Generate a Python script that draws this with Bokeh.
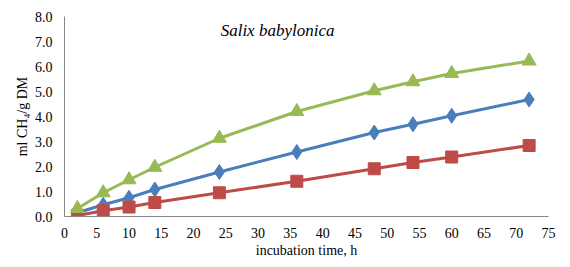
from bokeh.plotting import figure
from bokeh.models import Range1d, FixedTicker, NumeralTickFormatter, Label
from bokeh.embed import file_html
from bokeh.resources import INLINE

hours = [2, 6, 10, 14, 24, 36, 48, 54, 60, 72]
series_blue = [0.15, 0.47, 0.75, 1.08, 1.78, 2.58, 3.36, 3.69, 4.03, 4.68]
series_red = [0.04, 0.23, 0.38, 0.56, 0.95, 1.41, 1.91, 2.16, 2.38, 2.84]
series_green = [0.32, 0.95, 1.47, 1.97, 3.13, 4.2, 5.03, 5.39, 5.72, 6.22]
x_ticks = list(range(0, 80, 5))
y_ticks = [0, 1, 2, 3, 4, 5, 6, 7, 8]

FONT = "Liberation Serif"

p = figure(width=562, height=263, output_backend="svg", toolbar_location=None,
           x_range=Range1d(0, 75), y_range=Range1d(0, 8),
           min_border_left=64, min_border_right=14, min_border_top=16, min_border_bottom=47)
p.outline_line_color = None
p.grid.visible = False

blue, red, green = "#4A7EBB", "#BE4B48", "#98B954"
p.line(hours, series_blue, line_color=blue, line_width=3)
p.scatter(hours, series_blue, marker="diamond", size=15, fill_color=blue, line_color=blue)
p.line(hours, series_red, line_color=red, line_width=3)
p.scatter(hours, series_red, marker="square", size=12, fill_color=red, line_color=red)
p.line(hours, series_green, line_color=green, line_width=3)
p.scatter(hours, series_green, marker="triangle", size=14, fill_color=green, line_color=green)

for ax in (p.xaxis[0], p.yaxis[0]):
    ax.major_tick_line_color = None
    ax.minor_tick_line_color = None
    ax.axis_line_color = "#868686"
    ax.major_label_text_font = FONT
    ax.major_label_text_font_size = "14px"
    ax.major_label_text_color = "#000000"
    ax.axis_label_text_font = FONT
    ax.axis_label_text_font_size = "14px"
    ax.axis_label_text_font_style = "normal"
    ax.axis_label_text_color = "#000000"

p.xaxis.ticker = FixedTicker(ticks=x_ticks)
p.yaxis.ticker = FixedTicker(ticks=y_ticks)
p.yaxis.formatter = NumeralTickFormatter(format="0.0")
p.xaxis.axis_label = "incubation time, h"
p.yaxis.axis_label = "ml CH\u2084/g DM"
p.xaxis.major_label_standoff = 5
p.xaxis.axis_label_standoff = 2
p.yaxis.major_label_standoff = 6
p.yaxis.axis_label_standoff = 2

p.add_layout(Label(x=24.2, y=7.45, text="Salix babylonica", text_font="serif",
                   text_font_style="italic", text_font_size="17px",
                   text_baseline="middle", text_color="#000000"))

open("out.html", "w").write(file_html(p, INLINE))
